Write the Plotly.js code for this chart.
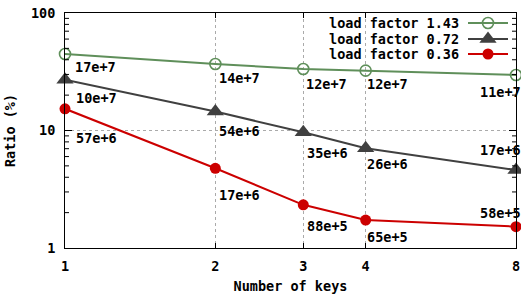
<!DOCTYPE html>
<html>
<head>
<meta charset="utf-8">
<script src="https://cdn.plot.ly/plotly-3.0.1.min.js"></script>
<style>html,body{margin:0;padding:0;background:#fff;}#chart{width:521px;height:297px;}</style>
</head>
<body>
<div id="chart"></div>
<script>
// ---- data ----
const numKeys = [1, 2, 3, 4, 8];
const seriesNames = ["load factor 1.43", "load factor 0.72", "load factor 0.36"];
const ratio143 = [44.8, 36.8, 33.4, 32.3, 29.7];
const ratio072 = [27.0, 14.5, 9.66, 7.05, 4.61];
const ratio036 = [15.3, 4.77, 2.33, 1.73, 1.52];
const labels143 = ["17e+7", "14e+7", "12e+7", "12e+7", "11e+7"];
const labels072 = ["10e+7", "54e+6", "35e+6", "26e+6", "17e+6"];
const labels036 = ["57e+6", "17e+6", "88e+5", "65e+5", "58e+5"];
const xTicks = [1, 2, 3, 4, 8];
const yMinorTicks = [2, 3, 4, 5, 6, 7, 8, 9, 20, 30, 40, 50, 60, 70, 80, 90];

// ---- styles ----
const FONT = "DejaVu Sans Mono";
const FS = 13.5;
const styles = [
  {color: "#5f8f5a", symbol: "circle-open", size: 11, lw: 1.6},
  {color: "#404040", symbol: "triangle-up", size: 15, lw: 0},
  {color: "#cc0000", symbol: "circle", size: 11, lw: 0}
];
// label pixel offsets [dx, dy(down)] relative to the point; last label right-aligned
const labelOffsets = [
  [[10, 13], [4, 14], [3, 15], [1, 13], [5, 17]],
  [[11, 18], [4, 19], [4, 21], [1, 16], [5, -20]],
  [[11, 29], [4, 27], [4, 21], [1, 17], [5, -14]]
];

const values = [ratio143, ratio072, ratio036];
const labelSets = [labels143, labels072, labels036];

const traces = values.map((v, i) => ({
  type: "scatter", mode: "lines+markers", name: seriesNames[i],
  x: numKeys, y: v, cliponaxis: false, showlegend: false,
  line: {color: styles[i].color, width: 2},
  marker: {symbol: styles[i].symbol, size: styles[i].size, color: styles[i].color,
           line: {color: styles[i].color, width: styles[i].lw}}
}));

const annotations = [];
labelSets.forEach((labs, i) => {
  labs.forEach((t, j) => {
    const last = j === labs.length - 1;
    const off = labelOffsets[i][j];
    annotations.push({
      xref: "x", yref: "y", x: Math.log10(numKeys[j]), y: Math.log10(values[i][j]),
      text: t, showarrow: false, borderpad: 0, borderwidth: 0,
      xanchor: last ? "right" : "left", yanchor: "middle",
      xshift: off[0], yshift: -off[1],
      font: {family: FONT, size: FS, color: "#000", weight: "bold"}
    });
  });
});

const shapes = [];
// minor y ticks on left and right borders (shape y in data values)
yMinorTicks.forEach(v => {
  [[0, 0, 4], [1, -4, 0]].forEach(([anc, a, b]) => {
    shapes.push({type: "line", xref: "paper", xsizemode: "pixel", xanchor: anc, x0: a, x1: b,
      yref: "y", y0: v, y1: v, line: {color: "#000", width: 1}, layer: "above"});
  });
});

// legend (text right-aligned, sample to the right)
const legendRowY = [-10, -26, -41]; // pixel offsets from top of plot
seriesNames.forEach((n, i) => {
  annotations.push({
    xref: "paper", yref: "paper", x: 1, y: 1, xanchor: "right", yanchor: "middle",
    xshift: -56, yshift: legendRowY[i], text: n, showarrow: false, borderpad: 0,
    font: {family: FONT, size: FS, color: "#000", weight: "bold"}
  });
  const st = styles[i];
  shapes.push({type: "line", xref: "paper", yref: "paper", xsizemode: "pixel", ysizemode: "pixel",
    xanchor: 1, yanchor: 1, x0: -48, x1: -8, y0: legendRowY[i], y1: legendRowY[i],
    line: {color: st.color, width: 2}});
  if (st.symbol === "triangle-up") {
    const cy = legendRowY[i];
    const r = st.size / 2, rt = r * 2 / Math.sqrt(3);
    shapes.push({type: "path", xref: "paper", yref: "paper", xsizemode: "pixel", ysizemode: "pixel",
      xanchor: 1, yanchor: 1,
      path: `M${-28 - rt},${cy - r / 2} L${-28 + rt},${cy - r / 2} L-28,${cy + r} Z`,
      fillcolor: st.color, line: {color: st.color, width: 0}});
  } else {
    const r = st.size / 2;
    shapes.push({type: "circle", xref: "paper", yref: "paper", xsizemode: "pixel", ysizemode: "pixel",
      xanchor: 1, yanchor: 1, x0: -28 - r, x1: -28 + r, y0: legendRowY[i] - r, y1: legendRowY[i] + r,
      fillcolor: st.symbol === "circle" ? st.color : "rgba(0,0,0,0)",
      line: {color: st.color, width: st.symbol === "circle" ? 0 : 1.6}});
  }
});

const axisFont = {family: FONT, size: FS, color: "#000", weight: "bold"};
const layout = {
  width: 521, height: 297,
  margin: {l: 65, r: 5, t: 13, b: 49},
  paper_bgcolor: "#fff", plot_bgcolor: "#fff",
  showlegend: false,
  font: axisFont,
  xaxis: {
    type: "log", range: [0, Math.log10(8)], tickmode: "array", tickvals: xTicks,
    ticktext: xTicks.map(String), ticks: "inside", ticklen: 5, tickcolor: "#000",
    showline: true, linecolor: "#000", linewidth: 1, mirror: "allticks",
    showgrid: true, gridcolor: "#aaa", griddash: "dot", gridwidth: 1,
    zeroline: false, tickfont: axisFont, ticklabelstandoff: 6,
    title: {text: "Number of keys", font: axisFont, standoff: 8}
  },
  yaxis: {
    type: "log", range: [0, 2], tickmode: "linear", tick0: 0, dtick: 1,
    ticks: "inside", ticklen: 7, tickcolor: "#000",
    showline: true, linecolor: "#000", linewidth: 1, mirror: "allticks",
    showgrid: true, gridcolor: "#aaa", griddash: "dot", gridwidth: 1,
    zeroline: false, tickfont: axisFont, ticklabelstandoff: 6,
    title: {text: "Ratio (%)", font: axisFont, standoff: 12}
  },
  annotations: annotations,
  shapes: shapes
};

Plotly.newPlot("chart", traces, layout, {staticPlot: true, displayModeBar: false});
</script>
</body>
</html>
